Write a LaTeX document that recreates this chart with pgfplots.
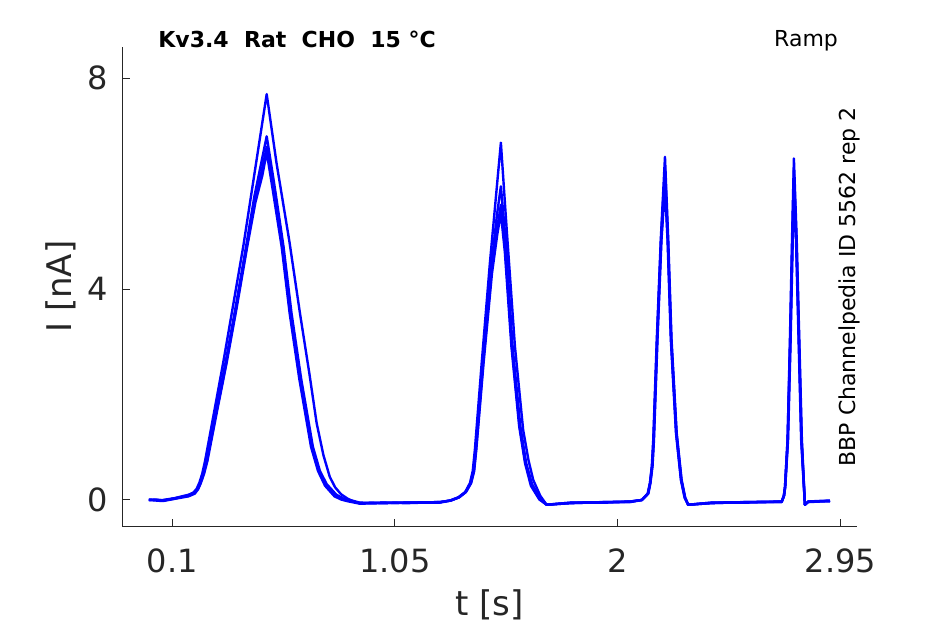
\documentclass[border=0pt]{standalone}
\usepackage{pgfplots}
\pgfplotsset{compat=1.18}
\usepackage{fontspec}
\setmainfont{DejaVu Sans}
\usetikzlibrary{calc}
\definecolor{axgray}{RGB}{38,38,38}
\tikzset{trc/.style={color=blue, mark=none, line width=1.2pt, line join=round}}
\begin{document}
\begin{tikzpicture}
\begin{axis}[
  name=ax,
  scale only axis,
  width=367.5pt, height=240pt,
  xmin=-0.113, xmax=3.0225,
  ymin=-0.507, ymax=8.60,
  axis x line=bottom, axis y line=left,
  axis line style={axgray, line width=0.5pt, -},
  xtick={0.1,1.05,2,2.95},
  xticklabels={0.1,1.05,2,2.95},
  ytick={0,4,8},
  yticklabels={0,4,8},
  tick align=inside,
  major tick length=3.8pt,
  tick style={axgray, line width=0.5pt},
  minor tick num=0,
  /pgf/number format/assume math mode=true,
  ticklabel style={font=\fontsize{16}{19}\selectfont, text=axgray},
  xticklabel style={anchor=base, inner sep=0pt, yshift=-22.7pt},
  yticklabel style={anchor=east, inner sep=0pt, xshift=-7pt},
  xlabel={t [s]},
  ylabel={I [nA]},
  every axis x label/.style={at={(rel axis cs:0.5,0)}, yshift=-44.15pt, anchor=base, inner sep=0pt, font=\fontsize{17}{20}\selectfont, text=axgray},
  every axis y label/.style={at={(rel axis cs:0,0.5)}, xshift=-25.3pt, rotate=90, anchor=base, inner sep=0pt, font=\fontsize{17}{20}\selectfont, text=axgray},
  clip=false,
]
% Trace A (largest)
\addplot[trc] coordinates {
(0.000,0.00)(0.030,0.01)(0.060,-0.01)(0.100,0.02)(0.133,0.06)(0.170,0.10)(0.190,0.14)(0.204,0.21)(0.216,0.33)(0.228,0.50)(0.240,0.74)
(0.280,1.70)(0.318,2.62)(0.360,3.70)(0.403,4.81)(0.503,7.70)
(0.545,6.39)(0.600,4.90)(0.645,3.54)(0.685,2.40)(0.716,1.46)(0.745,0.85)(0.772,0.44)(0.795,0.24)(0.820,0.11)(0.850,0.02)(0.880,-0.04)(0.900,-0.06)
(1.000,-0.05)(1.100,-0.05)(1.242,-0.04)(1.285,-0.01)(1.320,0.05)(1.350,0.15)(1.370,0.32)(1.382,0.55)(1.391,0.95)(1.420,2.59)(1.455,4.49)(1.502,6.78)
(1.527,5.12)(1.562,2.91)(1.597,1.33)(1.620,0.75)(1.640,0.38)(1.670,0.08)(1.697,-0.09)
(1.800,-0.05)(1.950,-0.04)(2.053,-0.03)(2.103,0.00)(2.128,0.12)(2.138,0.32)(2.146,0.65)(2.152,1.14)(2.167,3.04)(2.184,4.93)(2.202,6.51)
(2.216,4.93)(2.230,3.04)(2.252,1.27)(2.273,0.38)(2.288,0.05)(2.301,-0.09)
(2.400,-0.05)(2.550,-0.04)(2.700,-0.03)(2.709,0.08)(2.714,0.25)(2.725,1.14)(2.735,3.04)(2.744,4.93)(2.752,6.48)
(2.764,4.93)(2.775,3.04)(2.786,1.14)(2.799,-0.09)(2.813,-0.03)(2.850,-0.02)(2.906,-0.01)
};
% Trace B
\addplot[trc] coordinates {
(0.000,0.01)(0.060,-0.01)(0.133,0.05)(0.170,0.09)(0.193,0.14)(0.207,0.21)(0.219,0.33)(0.232,0.50)(0.245,0.74)
(0.285,1.66)(0.327,2.60)(0.370,3.65)(0.415,4.81)(0.450,5.75)(0.480,6.40)(0.503,6.90)
(0.535,6.00)(0.575,4.80)(0.609,3.54)(0.650,2.30)(0.700,1.01)(0.730,0.55)(0.759,0.30)(0.800,0.10)(0.830,0.03)(0.858,0.00)(0.900,-0.05)
(1.000,-0.06)(1.100,-0.05)(1.242,-0.04)(1.287,-0.01)(1.322,0.05)(1.350,0.15)(1.372,0.32)(1.385,0.55)(1.394,0.95)(1.424,2.59)(1.460,4.40)(1.485,5.40)(1.502,5.95)
(1.522,4.95)(1.552,2.91)(1.585,1.40)(1.610,0.70)(1.635,0.30)(1.670,0.03)(1.697,-0.09)
(1.800,-0.06)(1.950,-0.04)(2.053,-0.03)(2.103,0.00)(2.129,0.12)(2.138,0.32)(2.147,0.65)(2.153,1.14)(2.168,3.04)(2.185,4.93)(2.202,6.30)
(2.215,4.93)(2.229,3.04)(2.251,1.27)(2.272,0.38)(2.288,0.04)(2.301,-0.09)
(2.400,-0.06)(2.550,-0.04)(2.700,-0.03)(2.709,0.08)(2.714,0.25)(2.725,1.14)(2.736,3.04)(2.745,4.93)(2.752,6.25)
(2.763,4.93)(2.774,3.04)(2.785,1.14)(2.799,-0.09)(2.813,-0.03)(2.906,-0.02)
};
% Trace C
\addplot[trc] coordinates {
(0.000,0.00)(0.060,0.00)(0.133,0.05)(0.170,0.08)(0.195,0.13)(0.209,0.21)(0.221,0.33)(0.234,0.50)(0.248,0.74)
(0.288,1.66)(0.330,2.60)(0.373,3.65)(0.418,4.81)(0.453,5.70)(0.482,6.25)(0.503,6.70)
(0.532,5.90)(0.570,4.80)(0.604,3.54)(0.645,2.30)(0.695,1.01)(0.725,0.55)(0.755,0.28)(0.795,0.08)(0.825,0.02)(0.850,-0.01)(0.900,-0.06)
(1.000,-0.05)(1.100,-0.06)(1.242,-0.04)(1.288,-0.01)(1.323,0.05)(1.352,0.15)(1.374,0.32)(1.387,0.55)(1.396,0.95)(1.426,2.59)(1.462,4.35)(1.486,5.15)(1.502,5.60)
(1.520,4.80)(1.549,2.91)(1.582,1.40)(1.607,0.70)(1.632,0.28)(1.668,0.02)(1.697,-0.09)
(1.800,-0.05)(1.950,-0.05)(2.053,-0.03)(2.104,0.00)(2.130,0.12)(2.139,0.32)(2.148,0.65)(2.154,1.14)(2.169,3.04)(2.186,4.93)(2.202,6.10)
(2.214,4.93)(2.228,3.04)(2.250,1.27)(2.271,0.38)(2.287,0.04)(2.301,-0.09)
(2.400,-0.05)(2.550,-0.05)(2.700,-0.03)(2.710,0.08)(2.715,0.25)(2.726,1.14)(2.737,3.04)(2.746,4.93)(2.752,6.10)
(2.762,4.93)(2.773,3.04)(2.784,1.14)(2.799,-0.09)(2.813,-0.03)(2.906,-0.02)
};
% Trace D
\addplot[trc] coordinates {
(0.000,0.00)(0.060,-0.02)(0.133,0.04)(0.170,0.07)(0.196,0.12)(0.210,0.20)(0.222,0.32)(0.236,0.50)(0.250,0.74)
(0.290,1.66)(0.332,2.60)(0.375,3.65)(0.420,4.81)(0.455,5.65)(0.484,6.15)(0.503,6.60)
(0.530,5.85)(0.567,4.80)(0.601,3.54)(0.642,2.30)(0.692,1.01)(0.722,0.55)(0.752,0.27)(0.792,0.07)(0.820,0.01)(0.845,-0.02)(0.900,-0.07)
(1.000,-0.06)(1.100,-0.05)(1.242,-0.05)(1.289,-0.01)(1.324,0.05)(1.353,0.15)(1.375,0.32)(1.388,0.55)(1.397,0.95)(1.428,2.59)(1.464,4.30)(1.487,5.05)(1.502,5.45)
(1.519,4.70)(1.547,2.91)(1.580,1.40)(1.605,0.70)(1.630,0.27)(1.666,0.01)(1.697,-0.09)
(1.800,-0.06)(1.950,-0.04)(2.053,-0.04)(2.104,0.00)(2.131,0.12)(2.140,0.32)(2.149,0.65)(2.155,1.14)(2.170,3.04)(2.187,4.93)(2.202,5.95)
(2.213,4.93)(2.227,3.04)(2.249,1.27)(2.270,0.38)(2.286,0.04)(2.301,-0.09)
(2.400,-0.06)(2.550,-0.04)(2.700,-0.04)(2.710,0.08)(2.715,0.25)(2.727,1.14)(2.738,3.04)(2.747,4.93)(2.752,5.95)
(2.761,4.93)(2.772,3.04)(2.783,1.14)(2.799,-0.09)(2.813,-0.04)(2.906,-0.02)
};
\coordinate (bl) at (rel axis cs:0,0);
\coordinate (tr) at (rel axis cs:1,1);
\node[anchor=base west, inner sep=0pt, font=\fontsize{11}{13}\selectfont\bfseries, xshift=17.85pt, yshift=-0.5pt] at (rel axis cs:0,1) {Kv3.4\ \ Rat\ \ CHO\ \ 15 °C};
\node[anchor=base east, inner sep=0pt, font=\fontsize{11}{13}\selectfont, xshift=-9.5pt] at (rel axis cs:1,1) {Ramp};
\node[xshift=-0.9pt, rotate=90, anchor=base, inner sep=0pt, font=\fontsize{11}{13}\selectfont] at (rel axis cs:1,0.5) {BBP Channelpedia ID 5562 rep 2};
\end{axis}
\pgfresetboundingbox
\path ($(bl)+(-61.15pt,-48.65pt)$) rectangle ($(tr)+(43.85pt,23.35pt)$);
\end{tikzpicture}
\end{document}
